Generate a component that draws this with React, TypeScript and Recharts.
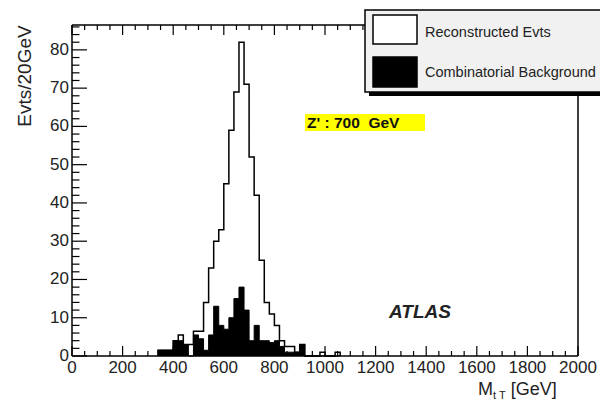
import { Area, ComposedChart, XAxis, YAxis } from "recharts";

// lower edge of each 20 GeV bin (GeV)
const massBins = [
  340, 360, 380, 400, 420, 440, 460, 480, 500, 520, 540, 560, 580, 600, 620, 640, 660, 680,
  700, 720, 740, 760, 780, 800, 820, 840, 860, 880, 900, 920, 940, 960, 980, 1000, 1020, 1040,
];
const binWidth = 20;

// Evts/20GeV
const reconstructed = [
  1.5, 1.5, 1.5, 4, 5.5, 3, 3, 6.5, 6.5, 14, 23, 30, 33, 45, 59, 69, 82, 71,
  52, 42, 25, 14, 11, 8, 4, 2.5, 2.5, 1, 3, 0, 0, 0, 1, 0, 0, 1,
];
const combinatorial = [
  1.5, 1.5, 1.5, 4, 4, 3, 0, 5.5, 4.5, 1.5, 5.5, 13, 8, 7, 10, 15, 18, 12,
  4, 8, 4, 4, 3.5, 4, 2.5, 1, 1, 1, 3, 0, 0, 0, 0, 0, 0, 0,
];

const xTickLabels = [0, 200, 400, 600, 800, 1000, 1200, 1400, 1600, 1800, 2000];
const yTickLabels = [0, 10, 20, 30, 40, 50, 60, 70, 80];
const xMax = 2000;
const yMax = 86.5;

const data = [
  { m: massBins[0], reco: 0, comb: 0 },
  ...massBins.map((m, i) => ({ m, reco: reconstructed[i], comb: combinatorial[i] })),
  { m: massBins[massBins.length - 1] + binWidth, reco: 0, comb: 0 },
];

// minor ticks: 4 per 200 GeV on x, 5 per 10 on y
const xTicks: number[] = [];
xTickLabels.forEach((v, i) => {
  if (i === xTickLabels.length - 1) return xTicks.push(v);
  for (let j = 0; j < 4; j++) xTicks.push(v + j * 50);
});
const yTicks: number[] = [];
yTickLabels.forEach((v) => {
  for (let j = 0; j < 5; j++) if (v + j * 2 <= yMax) yTicks.push(v + j * 2);
});

const FONT = "'Liberation Sans', Arial, Helvetica, sans-serif";
const INK = "#222";

function BottomTick({ x, y, payload }: any) {
  const major = xTickLabels.includes(payload.value);
  return (
    <g>
      <line x1={x} y1={y} x2={x} y2={y - (major ? 10 : 5)} stroke="#000" strokeWidth={1.2} />
      {major && (
        <text x={x} y={y + 17} textAnchor="middle" fontSize={17} fill={INK} fontFamily={FONT}>
          {payload.value}
        </text>
      )}
    </g>
  );
}

function TopTick({ x, y, payload }: any) {
  const major = xTickLabels.includes(payload.value);
  return <line x1={x} y1={y} x2={x} y2={y + (major ? 10 : 5)} stroke="#000" strokeWidth={1.2} />;
}

function LeftTick({ x, y, payload }: any) {
  const major = yTickLabels.includes(payload.value);
  return (
    <g>
      <line x1={x} y1={y} x2={x + (major ? 15 : 7.5)} y2={y} stroke="#000" strokeWidth={1.2} />
      {major && (
        <text x={x - 3} y={y + 5} textAnchor="end" fontSize={17} fill={INK} fontFamily={FONT}>
          {payload.value}
        </text>
      )}
    </g>
  );
}

function RightTick({ x, y, payload }: any) {
  const major = yTickLabels.includes(payload.value);
  return <line x1={x} y1={y} x2={x - (major ? 15 : 7.5)} y2={y} stroke="#000" strokeWidth={1.2} />;
}

export default function App() {
  return (
    <div style={{ position: "absolute", left: 0, top: 0, width: 600, height: 402, background: "#fff" }}>
      <ComposedChart width={600} height={402} data={data} margin={{ top: 0, right: 0, bottom: 0, left: 0 }}>
        <XAxis
          xAxisId="b"
          dataKey="m"
          type="number"
          domain={[0, xMax]}
          ticks={xTicks}
          interval={0}
          height={46}
          tickSize={0}
          tickMargin={0}
          tickLine={false}
          tick={(p: any) => <BottomTick {...p} />}
          axisLine={{ stroke: "#000", strokeWidth: 1.5 }}
        />
        <XAxis
          xAxisId="t"
          orientation="top"
          dataKey="m"
          type="number"
          domain={[0, xMax]}
          ticks={xTicks}
          interval={0}
          height={25}
          tickSize={0}
          tickMargin={0}
          tickLine={false}
          tick={(p: any) => <TopTick {...p} />}
          axisLine={{ stroke: "#000", strokeWidth: 1.5 }}
        />
        <YAxis
          yAxisId="l"
          type="number"
          domain={[0, yMax]}
          ticks={yTicks}
          interval={0}
          width={72}
          tickSize={0}
          tickMargin={0}
          tickLine={false}
          tick={(p: any) => <LeftTick {...p} />}
          axisLine={{ stroke: "#000", strokeWidth: 1.5 }}
        />
        <YAxis
          yAxisId="r"
          orientation="right"
          type="number"
          domain={[0, yMax]}
          ticks={yTicks}
          interval={0}
          width={22}
          tickSize={0}
          tickMargin={0}
          tickLine={false}
          tick={(p: any) => <RightTick {...p} />}
          axisLine={{ stroke: "#000", strokeWidth: 1.5 }}
        />
        <Area
          xAxisId="b"
          yAxisId="l"
          type="stepAfter"
          dataKey="reco"
          stroke="#000"
          strokeWidth={1.5}
          fill="#fff"
          fillOpacity={1}
          dot={false}
          activeDot={false}
          isAnimationActive={false}
        />
        <Area
          xAxisId="b"
          yAxisId="l"
          type="stepAfter"
          dataKey="comb"
          stroke="#000"
          strokeWidth={1}
          fill="#000"
          fillOpacity={1}
          dot={false}
          activeDot={false}
          isAnimationActive={false}
        />
      </ComposedChart>
      <svg
        width={600}
        height={402}
        style={{ position: "absolute", left: 0, top: 0, pointerEvents: "none" }}
        fontFamily={FONT}
      >
        <text
          transform="translate(31,76) rotate(-90)"
          textAnchor="middle"
          fontSize={19}
          fill={INK}
        >
          Evts/20GeV
        </text>
        <text x={478} y={395} fontSize={18} fill={INK}>
          M
          <tspan fontSize={11} dy={4}>t T</tspan>
          <tspan dy={-4}> [GeV]</tspan>
        </text>
        <rect x={305} y={114} width={120} height={17} fill="#ffff00" />
        <text x={307} y={127.5} fontSize={15.5} fontWeight="bold" fill="#111" style={{ whiteSpace: "pre" }}>
          {"Z' : 700  GeV"}
        </text>
        <text x={389} y={318} fontSize={19} fontWeight="bold" fontStyle="italic" fill="#222">
          ATLAS
        </text>
        {/* legend */}
        <rect x={369} y={14} width={240} height={82} fill="#000" />
        <rect x={365} y={10} width={240} height={82} fill="#f1f1f1" stroke="#000" strokeWidth={1.5} />
        <rect x={373} y={15} width={44} height={29} fill="#fff" stroke="#000" strokeWidth={1.5} />
        <rect x={373} y={57} width={44} height={30} fill="#000" stroke="#000" strokeWidth={1.5} />
        <text x={425} y={37} fontSize={14.5} fill="#222">
          Reconstructed Evts
        </text>
        <text x={425} y={77} fontSize={14.5} fill="#222">
          Combinatorial Background
        </text>
      </svg>
    </div>
  );
}
